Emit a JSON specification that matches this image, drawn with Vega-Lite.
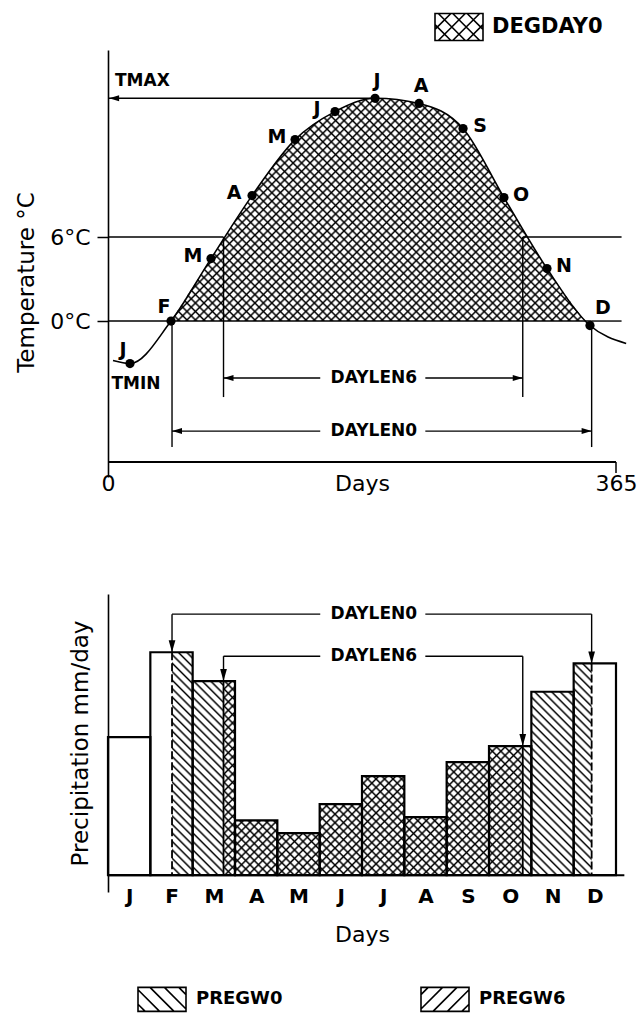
{
"$schema": "https://vega.github.io/schema/vega-lite/v6.json",
"background": "white",
"padding": {"left": 15, "top": 2, "right": 5, "bottom": 0},
"params": [{"name": "hs", "value": [
{"offset":0,"color":"#000"},{"offset":0.0031,"color":"#0000"},{"offset":0.0094,"color":"#0000"},
{"offset":0.0125,"color":"#000"},{"offset":0.0156,"color":"#0000"},{"offset":0.0219,"color":"#0000"},
{"offset":0.025,"color":"#000"},{"offset":0.0281,"color":"#0000"},{"offset":0.0344,"color":"#0000"},
{"offset":0.0375,"color":"#000"},{"offset":0.0406,"color":"#0000"},{"offset":0.0469,"color":"#0000"},
{"offset":0.05,"color":"#000"},{"offset":0.0531,"color":"#0000"},{"offset":0.0594,"color":"#0000"},
{"offset":0.0625,"color":"#000"},{"offset":0.0656,"color":"#0000"},{"offset":0.0719,"color":"#0000"},
{"offset":0.075,"color":"#000"},{"offset":0.0781,"color":"#0000"},{"offset":0.0844,"color":"#0000"},
{"offset":0.0875,"color":"#000"},{"offset":0.0906,"color":"#0000"},{"offset":0.0969,"color":"#0000"},
{"offset":0.1,"color":"#000"},{"offset":0.1031,"color":"#0000"},{"offset":0.1094,"color":"#0000"},
{"offset":0.1125,"color":"#000"},{"offset":0.1156,"color":"#0000"},{"offset":0.1219,"color":"#0000"},
{"offset":0.125,"color":"#000"},{"offset":0.1281,"color":"#0000"},{"offset":0.1344,"color":"#0000"},
{"offset":0.1375,"color":"#000"},{"offset":0.1406,"color":"#0000"},{"offset":0.1469,"color":"#0000"},
{"offset":0.15,"color":"#000"},{"offset":0.1531,"color":"#0000"},{"offset":0.1594,"color":"#0000"},
{"offset":0.1625,"color":"#000"},{"offset":0.1656,"color":"#0000"},{"offset":0.1719,"color":"#0000"},
{"offset":0.175,"color":"#000"},{"offset":0.1781,"color":"#0000"},{"offset":0.1844,"color":"#0000"},
{"offset":0.1875,"color":"#000"},{"offset":0.1906,"color":"#0000"},{"offset":0.1969,"color":"#0000"},
{"offset":0.2,"color":"#000"},{"offset":0.2031,"color":"#0000"},{"offset":0.2094,"color":"#0000"},
{"offset":0.2125,"color":"#000"},{"offset":0.2156,"color":"#0000"},{"offset":0.2219,"color":"#0000"},
{"offset":0.225,"color":"#000"},{"offset":0.2281,"color":"#0000"},{"offset":0.2344,"color":"#0000"},
{"offset":0.2375,"color":"#000"},{"offset":0.2406,"color":"#0000"},{"offset":0.2469,"color":"#0000"},
{"offset":0.25,"color":"#000"},{"offset":0.2531,"color":"#0000"},{"offset":0.2594,"color":"#0000"},
{"offset":0.2625,"color":"#000"},{"offset":0.2656,"color":"#0000"},{"offset":0.2719,"color":"#0000"},
{"offset":0.275,"color":"#000"},{"offset":0.2781,"color":"#0000"},{"offset":0.2844,"color":"#0000"},
{"offset":0.2875,"color":"#000"},{"offset":0.2906,"color":"#0000"},{"offset":0.2969,"color":"#0000"},
{"offset":0.3,"color":"#000"},{"offset":0.3031,"color":"#0000"},{"offset":0.3094,"color":"#0000"},
{"offset":0.3125,"color":"#000"},{"offset":0.3156,"color":"#0000"},{"offset":0.3219,"color":"#0000"},
{"offset":0.325,"color":"#000"},{"offset":0.3281,"color":"#0000"},{"offset":0.3344,"color":"#0000"},
{"offset":0.3375,"color":"#000"},{"offset":0.3406,"color":"#0000"},{"offset":0.3469,"color":"#0000"},
{"offset":0.35,"color":"#000"},{"offset":0.3531,"color":"#0000"},{"offset":0.3594,"color":"#0000"},
{"offset":0.3625,"color":"#000"},{"offset":0.3656,"color":"#0000"},{"offset":0.3719,"color":"#0000"},
{"offset":0.375,"color":"#000"},{"offset":0.3781,"color":"#0000"},{"offset":0.3844,"color":"#0000"},
{"offset":0.3875,"color":"#000"},{"offset":0.3906,"color":"#0000"},{"offset":0.3969,"color":"#0000"},
{"offset":0.4,"color":"#000"},{"offset":0.4031,"color":"#0000"},{"offset":0.4094,"color":"#0000"},
{"offset":0.4125,"color":"#000"},{"offset":0.4156,"color":"#0000"},{"offset":0.4219,"color":"#0000"},
{"offset":0.425,"color":"#000"},{"offset":0.4281,"color":"#0000"},{"offset":0.4344,"color":"#0000"},
{"offset":0.4375,"color":"#000"},{"offset":0.4406,"color":"#0000"},{"offset":0.4469,"color":"#0000"},
{"offset":0.45,"color":"#000"},{"offset":0.4531,"color":"#0000"},{"offset":0.4594,"color":"#0000"},
{"offset":0.4625,"color":"#000"},{"offset":0.4656,"color":"#0000"},{"offset":0.4719,"color":"#0000"},
{"offset":0.475,"color":"#000"},{"offset":0.4781,"color":"#0000"},{"offset":0.4844,"color":"#0000"},
{"offset":0.4875,"color":"#000"},{"offset":0.4906,"color":"#0000"},{"offset":0.4969,"color":"#0000"},
{"offset":0.5,"color":"#000"},{"offset":0.5031,"color":"#0000"},{"offset":0.5094,"color":"#0000"},
{"offset":0.5125,"color":"#000"},{"offset":0.5156,"color":"#0000"},{"offset":0.5219,"color":"#0000"},
{"offset":0.525,"color":"#000"},{"offset":0.5281,"color":"#0000"},{"offset":0.5344,"color":"#0000"},
{"offset":0.5375,"color":"#000"},{"offset":0.5406,"color":"#0000"},{"offset":0.5469,"color":"#0000"},
{"offset":0.55,"color":"#000"},{"offset":0.5531,"color":"#0000"},{"offset":0.5594,"color":"#0000"},
{"offset":0.5625,"color":"#000"},{"offset":0.5656,"color":"#0000"},{"offset":0.5719,"color":"#0000"},
{"offset":0.575,"color":"#000"},{"offset":0.5781,"color":"#0000"},{"offset":0.5844,"color":"#0000"},
{"offset":0.5875,"color":"#000"},{"offset":0.5906,"color":"#0000"},{"offset":0.5969,"color":"#0000"},
{"offset":0.6,"color":"#000"},{"offset":0.6031,"color":"#0000"},{"offset":0.6094,"color":"#0000"},
{"offset":0.6125,"color":"#000"},{"offset":0.6156,"color":"#0000"},{"offset":0.6219,"color":"#0000"},
{"offset":0.625,"color":"#000"},{"offset":0.6281,"color":"#0000"},{"offset":0.6344,"color":"#0000"},
{"offset":0.6375,"color":"#000"},{"offset":0.6406,"color":"#0000"},{"offset":0.6469,"color":"#0000"},
{"offset":0.65,"color":"#000"},{"offset":0.6531,"color":"#0000"},{"offset":0.6594,"color":"#0000"},
{"offset":0.6625,"color":"#000"},{"offset":0.6656,"color":"#0000"},{"offset":0.6719,"color":"#0000"},
{"offset":0.675,"color":"#000"},{"offset":0.6781,"color":"#0000"},{"offset":0.6844,"color":"#0000"},
{"offset":0.6875,"color":"#000"},{"offset":0.6906,"color":"#0000"},{"offset":0.6969,"color":"#0000"},
{"offset":0.7,"color":"#000"},{"offset":0.7031,"color":"#0000"},{"offset":0.7094,"color":"#0000"},
{"offset":0.7125,"color":"#000"},{"offset":0.7156,"color":"#0000"},{"offset":0.7219,"color":"#0000"},
{"offset":0.725,"color":"#000"},{"offset":0.7281,"color":"#0000"},{"offset":0.7344,"color":"#0000"},
{"offset":0.7375,"color":"#000"},{"offset":0.7406,"color":"#0000"},{"offset":0.7469,"color":"#0000"},
{"offset":0.75,"color":"#000"},{"offset":0.7531,"color":"#0000"},{"offset":0.7594,"color":"#0000"},
{"offset":0.7625,"color":"#000"},{"offset":0.7656,"color":"#0000"},{"offset":0.7719,"color":"#0000"},
{"offset":0.775,"color":"#000"},{"offset":0.7781,"color":"#0000"},{"offset":0.7844,"color":"#0000"},
{"offset":0.7875,"color":"#000"},{"offset":0.7906,"color":"#0000"},{"offset":0.7969,"color":"#0000"},
{"offset":0.8,"color":"#000"},{"offset":0.8031,"color":"#0000"},{"offset":0.8094,"color":"#0000"},
{"offset":0.8125,"color":"#000"},{"offset":0.8156,"color":"#0000"},{"offset":0.8219,"color":"#0000"},
{"offset":0.825,"color":"#000"},{"offset":0.8281,"color":"#0000"},{"offset":0.8344,"color":"#0000"},
{"offset":0.8375,"color":"#000"},{"offset":0.8406,"color":"#0000"},{"offset":0.8469,"color":"#0000"},
{"offset":0.85,"color":"#000"},{"offset":0.8531,"color":"#0000"},{"offset":0.8594,"color":"#0000"},
{"offset":0.8625,"color":"#000"},{"offset":0.8656,"color":"#0000"},{"offset":0.8719,"color":"#0000"},
{"offset":0.875,"color":"#000"},{"offset":0.8781,"color":"#0000"},{"offset":0.8844,"color":"#0000"},
{"offset":0.8875,"color":"#000"},{"offset":0.8906,"color":"#0000"},{"offset":0.8969,"color":"#0000"},
{"offset":0.9,"color":"#000"},{"offset":0.9031,"color":"#0000"},{"offset":0.9094,"color":"#0000"},
{"offset":0.9125,"color":"#000"},{"offset":0.9156,"color":"#0000"},{"offset":0.9219,"color":"#0000"},
{"offset":0.925,"color":"#000"},{"offset":0.9281,"color":"#0000"},{"offset":0.9344,"color":"#0000"},
{"offset":0.9375,"color":"#000"},{"offset":0.9406,"color":"#0000"},{"offset":0.9469,"color":"#0000"},
{"offset":0.95,"color":"#000"},{"offset":0.9531,"color":"#0000"},{"offset":0.9594,"color":"#0000"},
{"offset":0.9625,"color":"#000"},{"offset":0.9656,"color":"#0000"},{"offset":0.9719,"color":"#0000"},
{"offset":0.975,"color":"#000"},{"offset":0.9781,"color":"#0000"},{"offset":0.9844,"color":"#0000"},
{"offset":0.9875,"color":"#000"},{"offset":0.9906,"color":"#0000"},{"offset":0.9969,"color":"#0000"}
]}],
"config": {
  "font": "DejaVu Sans",
  "view": {"stroke": null},
  "axis": {"grid": false, "domainColor": "black", "domainWidth": 1.6, "tickColor": "black", "tickWidth": 1.5, "labelColor": "black", "titleColor": "black", "labelFont": "DejaVu Sans", "titleFont": "DejaVu Sans", "labelFontSize": 22, "titleFontSize": 22, "titleFontWeight": "normal", "labelFontWeight": "normal"},
  "legend": {"labelFont": "DejaVu Sans"},
  "text": {"font": "DejaVu Sans", "color": "black"},
  "rule": {"color": "black", "strokeWidth": 1.5}
},
"datasets": {
  "temp": [
    {"m": "", "day": 3.6, "t": -2.82},
    {"m": "J", "day": 15.8, "t": -3.04},
    {"m": "F", "day": 45.3, "t": 0},
    {"m": "M", "day": 74, "t": 4.46},
    {"m": "A", "day": 103.5, "t": 8.96},
    {"m": "M", "day": 134.4, "t": 12.96},
    {"m": "J", "day": 163.1, "t": 14.96},
    {"m": "J", "day": 191.9, "t": 15.91},
    {"m": "A", "day": 223.5, "t": 15.54},
    {"m": "S", "day": 255.1, "t": 13.75},
    {"m": "O", "day": 284.5, "t": 8.82},
    {"m": "N", "day": 315.4, "t": 3.75},
    {"m": "D", "day": 346.3, "t": -0.32},
    {"m": "", "day": 372.3, "t": -1.6}
  ],
  "degday": [
    {"day": 45.3, "t": 0},
    {"day": 74, "t": 4.46},
    {"day": 103.5, "t": 8.96},
    {"day": 134.4, "t": 12.96},
    {"day": 163.1, "t": 14.96},
    {"day": 191.9, "t": 15.91},
    {"day": 223.5, "t": 15.54},
    {"day": 255.1, "t": 13.75},
    {"day": 284.5, "t": 8.82},
    {"day": 315.4, "t": 3.75},
    {"day": 342.8, "t": 0}
  ],
  "periods": [
    {"name": "DAYLEN0", "start": 46, "end": 347.5, "thresh": 0, "arrowT": -7.86, "lowT": -9.0, "level": 9.32, "topStart": 7.96, "topEnd": 7.56, "mid": 191, "gap0": 152.5, "gap1": 228},
    {"name": "DAYLEN6", "start": 83, "end": 298, "thresh": 6, "arrowT": -4.07, "lowT": -5.43, "level": 7.82, "topStart": 6.93, "topEnd": 4.61, "mid": 191, "gap0": 152.5, "gap1": 228}
  ],
  "bars": [
    {"i": 1, "m": "J", "x0": 0, "x1": 30.42, "p": 4.93, "hatch": "none"},
    {"i": 2, "m": "F", "x0": 30.42, "x1": 46, "p": 7.96, "hatch": "none"},
    {"i": 2, "m": "F", "x0": 46, "x1": 60.83, "p": 7.96, "hatch": "PREGW0"},
    {"i": 3, "m": "M", "x0": 60.83, "x1": 83, "p": 6.93, "hatch": "PREGW0"},
    {"i": 3, "m": "M", "x0": 83, "x1": 91.25, "p": 6.93, "hatch": "both"},
    {"i": 4, "m": "A", "x0": 91.25, "x1": 121.67, "p": 1.96, "hatch": "both"},
    {"i": 5, "m": "M", "x0": 121.67, "x1": 152.08, "p": 1.5, "hatch": "both"},
    {"i": 6, "m": "J", "x0": 152.08, "x1": 182.5, "p": 2.54, "hatch": "both"},
    {"i": 7, "m": "J", "x0": 182.5, "x1": 212.92, "p": 3.54, "hatch": "both"},
    {"i": 8, "m": "A", "x0": 212.92, "x1": 243.33, "p": 2.07, "hatch": "both"},
    {"i": 9, "m": "S", "x0": 243.33, "x1": 273.75, "p": 4.04, "hatch": "both"},
    {"i": 10, "m": "O", "x0": 273.75, "x1": 298, "p": 4.61, "hatch": "both"},
    {"i": 10, "m": "O", "x0": 298, "x1": 304.17, "p": 4.61, "hatch": "PREGW0"},
    {"i": 11, "m": "N", "x0": 304.17, "x1": 334.58, "p": 6.55, "hatch": "PREGW0"},
    {"i": 12, "m": "D", "x0": 334.58, "x1": 347.5, "p": 7.56, "hatch": "PREGW0"},
    {"i": 12, "m": "D", "x0": 347.5, "x1": 365, "p": 7.56, "hatch": "none"}
  ],
  "one": [{"k": "axis"}]
},
"spacing": 117,
"bounds": "flush",
"resolve": {"scale": {"shape": "independent"}, "legend": {"shape": "independent"}},
"vconcat": [
{
  "width": 508, "height": 427,
  "layer": [
    {"data": {"name": "degday"},
     "mark": {"type": "area", "interpolate": "monotone", "fill": {"expr": "{gradient:'linear',x1:0,y1:0,x2:1.272,y2:0.685,stops:hs}"}},
     "encoding": {
       "x": {"field": "day", "type": "quantitative", "scale": {"domain": [0, 365], "nice": false, "zero": false},
             "axis": {"values": [0, 365], "title": "Days", "domain": false, "ticks": false, "labelPadding": -4, "titlePadding": -21, "labelFlush": false, "labelOverlap": false}},
       "y": {"field": "t", "type": "quantitative", "scale": {"domain": [-11.14, 19.36], "nice": false, "zero": false},
             "axis": {"values": [0, 6], "labelExpr": "datum.value + '°C'", "title": "Temperature °C", "titleFontSize": 23, "tickSize": 11, "labelPadding": 7, "titlePadding": 11, "titleY": 232}},
       "y2": {"datum": 0}
     }},
    {"data": {"name": "degday"},
     "mark": {"type": "area", "interpolate": "monotone", "fill": {"expr": "{gradient:'linear',x1:0,y1:1,x2:1.272,y2:0.315,stops:hs}"}},
     "encoding": {"x": {"field": "day", "type": "quantitative"}, "y": {"field": "t", "type": "quantitative"}, "y2": {"datum": 0}}},
    {"data": {"name": "periods"},
     "mark": {"type": "rule", "strokeWidth": 1.4},
     "encoding": {"x": {"field": "start", "type": "quantitative"}, "x2": {"datum": 0}, "y": {"field": "thresh", "type": "quantitative"}}},
    {"data": {"name": "periods"},
     "mark": {"type": "rule", "strokeWidth": 1.4},
     "encoding": {"x": {"field": "end", "type": "quantitative"}, "x2": {"datum": 369}, "y": {"field": "thresh", "type": "quantitative"}}},
    {"data": {"name": "periods"}, "transform": [{"filter": "datum.name == 'DAYLEN0'"}],
     "mark": {"type": "rule", "strokeWidth": 1.6},
     "encoding": {"x": {"field": "start", "type": "quantitative"}, "x2": {"field": "end"}, "y": {"field": "thresh", "type": "quantitative"}}},
    {"data": {"name": "periods"},
     "mark": {"type": "rule", "strokeWidth": 1.4},
     "encoding": {"x": {"field": "start", "type": "quantitative"}, "y": {"field": "thresh", "type": "quantitative"}, "y2": {"field": "lowT"}}},
    {"data": {"name": "periods"},
     "mark": {"type": "rule", "strokeWidth": 1.4},
     "encoding": {"x": {"field": "end", "type": "quantitative"}, "y": {"field": "thresh", "type": "quantitative"}, "y2": {"field": "lowT"}}},
    {"data": {"name": "periods"},
     "mark": {"type": "rule", "strokeWidth": 1.4},
     "encoding": {"x": {"field": "start", "type": "quantitative"}, "x2": {"field": "gap0"}, "y": {"field": "arrowT", "type": "quantitative"}}},
    {"data": {"name": "periods"},
     "mark": {"type": "rule", "strokeWidth": 1.4},
     "encoding": {"x": {"field": "gap1", "type": "quantitative"}, "x2": {"field": "end"}, "y": {"field": "arrowT", "type": "quantitative"}}},
    {"data": {"name": "periods"},
     "mark": {"type": "point", "shape": "M0,0L1,-0.3L1,0.3Z", "size": 400, "filled": true, "color": "black", "opacity": 1, "strokeWidth": 0},
     "encoding": {"x": {"field": "start", "type": "quantitative"}, "y": {"field": "arrowT", "type": "quantitative"}}},
    {"data": {"name": "periods"},
     "mark": {"type": "point", "shape": "M0,0L-1,-0.3L-1,0.3Z", "size": 400, "filled": true, "color": "black", "opacity": 1, "strokeWidth": 0},
     "encoding": {"x": {"field": "end", "type": "quantitative"}, "y": {"field": "arrowT", "type": "quantitative"}}},
    {"data": {"name": "periods"},
     "mark": {"type": "text", "fontSize": 17, "fontWeight": "bold", "baseline": "middle", "align": "center"},
     "encoding": {"x": {"field": "mid", "type": "quantitative"}, "y": {"field": "arrowT", "type": "quantitative"}, "text": {"field": "name", "type": "nominal"}}},
    {"data": {"name": "temp"}, "transform": [{"filter": "datum.m == 'J' && datum.day > 180"}],
     "mark": {"type": "rule", "strokeWidth": 1.4},
     "encoding": {"x": {"field": "day", "type": "quantitative"}, "x2": {"datum": 0}, "y": {"field": "t", "type": "quantitative"}}},
    {"data": {"name": "temp"}, "transform": [{"filter": "datum.m == 'J' && datum.day > 180"}],
     "mark": {"type": "point", "shape": "M0,0L1,-0.3L1,0.3Z", "size": 400, "filled": true, "color": "black", "opacity": 1, "strokeWidth": 0},
     "encoding": {"x": {"datum": 0.8, "type": "quantitative"}, "y": {"field": "t", "type": "quantitative"}}},
    {"data": {"name": "temp"}, "transform": [{"filter": "datum.m == 'J' && datum.day > 180"}],
     "mark": {"type": "text", "text": "TMAX", "fontSize": 17, "fontWeight": "bold", "align": "left", "baseline": "middle", "dx": 7, "dy": -17},
     "encoding": {"x": {"datum": 0, "type": "quantitative"}, "y": {"field": "t", "type": "quantitative"}}},
    {"data": {"name": "temp"}, "transform": [{"filter": "datum.m == 'J' && datum.day < 30"}],
     "mark": {"type": "text", "text": "TMIN", "fontSize": 17, "fontWeight": "bold", "align": "center", "baseline": "middle", "dx": 6, "dy": 20},
     "encoding": {"x": {"field": "day", "type": "quantitative"}, "y": {"field": "t", "type": "quantitative"}}},
    {"data": {"name": "temp"},
     "mark": {"type": "line", "interpolate": "monotone", "color": "black", "strokeWidth": 1.6},
     "encoding": {"x": {"field": "day", "type": "quantitative"}, "y": {"field": "t", "type": "quantitative"}}},
    {"data": {"name": "temp"}, "transform": [{"filter": "datum.m != ''"}],
     "mark": {"type": "point", "filled": true, "color": "black", "opacity": 1, "size": 85, "strokeWidth": 0},
     "encoding": {"x": {"field": "day", "type": "quantitative"}, "y": {"field": "t", "type": "quantitative"}}},
    {"data": {"name": "temp"}, "transform": [{"filter": "datum.m != '' && datum.day < 50"}],
     "mark": {"type": "text", "fontSize": 19, "fontWeight": "bold", "baseline": "middle", "align": "center", "dx": -7, "dy": -14},
     "encoding": {"x": {"field": "day", "type": "quantitative"}, "y": {"field": "t", "type": "quantitative"}, "text": {"field": "m", "type": "nominal"}}},
    {"data": {"name": "temp"}, "transform": [{"filter": "datum.day > 50 && datum.day < 170"}],
     "mark": {"type": "text", "fontSize": 19, "fontWeight": "bold", "baseline": "middle", "align": "center", "dx": -18, "dy": -3},
     "encoding": {"x": {"field": "day", "type": "quantitative"}, "y": {"field": "t", "type": "quantitative"}, "text": {"field": "m", "type": "nominal"}}},
    {"data": {"name": "temp"}, "transform": [{"filter": "datum.day > 170 && datum.day < 240"}],
     "mark": {"type": "text", "fontSize": 19, "fontWeight": "bold", "baseline": "middle", "align": "center", "dx": 2, "dy": -17},
     "encoding": {"x": {"field": "day", "type": "quantitative"}, "y": {"field": "t", "type": "quantitative"}, "text": {"field": "m", "type": "nominal"}}},
    {"data": {"name": "temp"}, "transform": [{"filter": "datum.day > 240 && datum.day < 330"}],
     "mark": {"type": "text", "fontSize": 19, "fontWeight": "bold", "baseline": "middle", "align": "center", "dx": 17, "dy": -3},
     "encoding": {"x": {"field": "day", "type": "quantitative"}, "y": {"field": "t", "type": "quantitative"}, "text": {"field": "m", "type": "nominal"}}},
    {"data": {"name": "temp"}, "transform": [{"filter": "datum.m != '' && datum.day > 330"}],
     "mark": {"type": "text", "fontSize": 19, "fontWeight": "bold", "baseline": "middle", "align": "center", "dx": 13, "dy": -18},
     "encoding": {"x": {"field": "day", "type": "quantitative"}, "y": {"field": "t", "type": "quantitative"}, "text": {"field": "m", "type": "nominal"}}},
    {"data": {"name": "one"},
     "mark": {"type": "rule", "strokeWidth": 1.8},
     "encoding": {"x": {"datum": 0, "type": "quantitative"}, "x2": {"datum": 365}, "y": {"datum": -10.07, "type": "quantitative"}}},
    {"data": {"name": "one"},
     "mark": {"type": "rule", "strokeWidth": 1.5},
     "encoding": {"x": {"datum": 365, "type": "quantitative"}, "y": {"datum": -10.07, "type": "quantitative"}, "y2": {"datum": -10.86}}},
    {"data": {"values": [{"k": "DEGDAY0"}]},
     "mark": {"type": "point", "opacity": 0, "filled": false, "color": "black", "strokeWidth": 1.6},
     "encoding": {"shape": {"field": "k", "type": "nominal",
        "scale": {"domain": ["DEGDAY0"], "range": ["M-1,-0.5625H1V0.5625H-1ZM-1,-0.1L-0.3375,0.5625M-0.8625,-0.5625L0.2625,0.5625M-0.2625,-0.5625L0.8625,0.5625M0.3375,-0.5625L1,0.1M0.3375,0.5625L1,-0.1M-0.2625,0.5625L0.8625,-0.5625M-0.8625,0.5625L0.2625,-0.5625M-1,0.1L-0.3375,-0.5625"]},
        "legend": {"title": null, "orient": "none", "legendX": 326, "legendY": -48, "padding": 0, "symbolSize": 2304, "symbolStrokeWidth": 1.6, "symbolStrokeColor": "black", "symbolFillColor": "transparent", "symbolOpacity": 1, "labelFontSize": 21, "labelFontWeight": "bold", "labelColor": "black", "labelOffset": 8}}}}
  ]
},
{
  "width": 508, "height": 298,
  "layer": [
    {"data": {"name": "bars"}, "transform": [{"filter": "datum.hatch != 'none'"}],
     "mark": {"type": "rect", "fill": {"expr": "{gradient:'linear',x1:0,y1:1,x2:678.8*(datum.x1-datum.x0)*1.3918/(pow((datum.x1-datum.x0)*1.3918,2)+pow(datum.p*28,2)),y2:1-678.8*datum.p*28/(pow((datum.x1-datum.x0)*1.3918,2)+pow(datum.p*28,2)),stops:hs}"}},
     "encoding": {
       "x": {"field": "x0", "type": "quantitative", "scale": {"domain": [0, 365], "nice": false, "zero": false},
             "axis": {"values": [15.21, 45.63, 76.04, 106.46, 136.88, 167.29, 197.71, 228.13, 258.54, 288.96, 319.38, 349.79], "labelExpr": "['J','F','M','A','M','J','J','A','S','O','N','D'][floor(datum.value/30.4167)]", "title": "Days", "domain": false, "ticks": false, "labelFontWeight": "bold", "labelFontSize": 20, "labelPadding": -6, "titlePadding": 18, "labelFlush": false, "labelOverlap": false}},
       "x2": {"field": "x1"},
       "y": {"field": "p", "type": "quantitative", "scale": {"domain": [-0.6, 10.04], "nice": false, "zero": false},
             "axis": {"labels": false, "ticks": false, "title": "Precipitation mm/day", "titleFontSize": 23, "titlePadding": 16}},
       "y2": {"datum": 0}
     }},
    {"data": {"name": "bars"}, "transform": [{"filter": "datum.hatch == 'both'"}],
     "mark": {"type": "rect", "fill": {"expr": "{gradient:'linear',x1:0,y1:0,x2:678.8*(datum.x1-datum.x0)*1.3918/(pow((datum.x1-datum.x0)*1.3918,2)+pow(datum.p*28,2)),y2:678.8*datum.p*28/(pow((datum.x1-datum.x0)*1.3918,2)+pow(datum.p*28,2)),stops:hs}"}},
     "encoding": {"x": {"field": "x0", "type": "quantitative"}, "x2": {"field": "x1"}, "y": {"field": "p", "type": "quantitative"}, "y2": {"datum": 0}}},
    {"data": {"name": "bars"},
     "transform": [{"aggregate": [{"op": "min", "field": "x0", "as": "x0"}, {"op": "max", "field": "x1", "as": "x1"}, {"op": "max", "field": "p", "as": "p"}], "groupby": ["i"]}],
     "mark": {"type": "rect", "fill": "transparent", "stroke": "black", "strokeWidth": 2.2},
     "encoding": {"x": {"field": "x0", "type": "quantitative"}, "x2": {"field": "x1"}, "y": {"field": "p", "type": "quantitative"}, "y2": {"datum": 0}}},
    {"data": {"name": "periods"},
     "mark": {"type": "rule", "strokeWidth": 1.8},
     "encoding": {"x": {"field": "start", "type": "quantitative"}, "y": {"field": "topStart", "type": "quantitative"}, "y2": {"datum": 0},
       "strokeDash": {"condition": {"test": "datum.name == 'DAYLEN0'", "value": [8, 3]}, "value": [1, 0]}}},
    {"data": {"name": "periods"},
     "mark": {"type": "rule", "strokeWidth": 1.8},
     "encoding": {"x": {"field": "end", "type": "quantitative"}, "y": {"field": "topEnd", "type": "quantitative"}, "y2": {"datum": 0},
       "strokeDash": {"condition": {"test": "datum.name == 'DAYLEN0'", "value": [8, 3]}, "value": [1, 0]}}},
    {"data": {"name": "periods"},
     "mark": {"type": "rule", "strokeWidth": 1.4},
     "encoding": {"x": {"field": "start", "type": "quantitative"}, "y": {"field": "topStart", "type": "quantitative"}, "y2": {"field": "level"}}},
    {"data": {"name": "periods"},
     "mark": {"type": "rule", "strokeWidth": 1.4},
     "encoding": {"x": {"field": "end", "type": "quantitative"}, "y": {"field": "topEnd", "type": "quantitative"}, "y2": {"field": "level"}}},
    {"data": {"name": "periods"},
     "mark": {"type": "rule", "strokeWidth": 1.4},
     "encoding": {"x": {"field": "start", "type": "quantitative"}, "x2": {"field": "gap0"}, "y": {"field": "level", "type": "quantitative"}}},
    {"data": {"name": "periods"},
     "mark": {"type": "rule", "strokeWidth": 1.4},
     "encoding": {"x": {"field": "gap1", "type": "quantitative"}, "x2": {"field": "end"}, "y": {"field": "level", "type": "quantitative"}}},
    {"data": {"name": "periods"},
     "mark": {"type": "point", "shape": "M0,0L-0.28,-1L0.28,-1Z", "size": 576, "filled": true, "color": "black", "opacity": 1, "strokeWidth": 0},
     "encoding": {"x": {"field": "start", "type": "quantitative"}, "y": {"field": "topStart", "type": "quantitative"}}},
    {"data": {"name": "periods"},
     "mark": {"type": "point", "shape": "M0,0L-0.28,-1L0.28,-1Z", "size": 576, "filled": true, "color": "black", "opacity": 1, "strokeWidth": 0},
     "encoding": {"x": {"field": "end", "type": "quantitative"}, "y": {"field": "topEnd", "type": "quantitative"}}},
    {"data": {"name": "periods"},
     "mark": {"type": "text", "fontSize": 17, "fontWeight": "bold", "baseline": "middle", "align": "center"},
     "encoding": {"x": {"field": "mid", "type": "quantitative"}, "y": {"field": "level", "type": "quantitative"}, "text": {"field": "name", "type": "nominal"}}},
    {"data": {"name": "one"},
     "mark": {"type": "rule", "strokeWidth": 2},
     "encoding": {"x": {"datum": 0, "type": "quantitative"}, "x2": {"datum": 371}, "y": {"datum": 0, "type": "quantitative"}}},
    {"data": {"values": [{"k": "PREGW0"}, {"k": "PREGW6"}]},
     "mark": {"type": "point", "opacity": 0, "filled": false, "color": "black", "strokeWidth": 1.6},
     "encoding": {"shape": {"field": "k", "type": "nominal",
        "scale": {"domain": ["PREGW0", "PREGW6"], "range": ["M-1,-0.5H1V0.5H-1ZM-1,0.2L-0.7,0.5M-1,-0.4L-0.1,0.5M-0.5,-0.5L0.5,0.5M0.1,-0.5L1,0.4M0.7,-0.5L1,-0.2", "M-1,-0.5H1V0.5H-1ZM0.7,0.5L1,0.2M0.1,0.5L1,-0.4M-0.5,0.5L0.5,-0.5M-1,0.4L-0.1,-0.5M-1,-0.2L-0.7,-0.5"]},
        "legend": {"title": null, "orient": "none", "legendX": 29, "legendY": 380, "direction": "horizontal", "columns": 2, "columnPadding": 134, "padding": 0, "symbolSize": 2304, "symbolStrokeWidth": 1.6, "symbolStrokeColor": "black", "symbolFillColor": "transparent", "symbolOpacity": 1, "labelFontSize": 18, "labelFontWeight": "bold", "labelColor": "black", "labelOffset": 9}}}}
  ]
}
]
}
